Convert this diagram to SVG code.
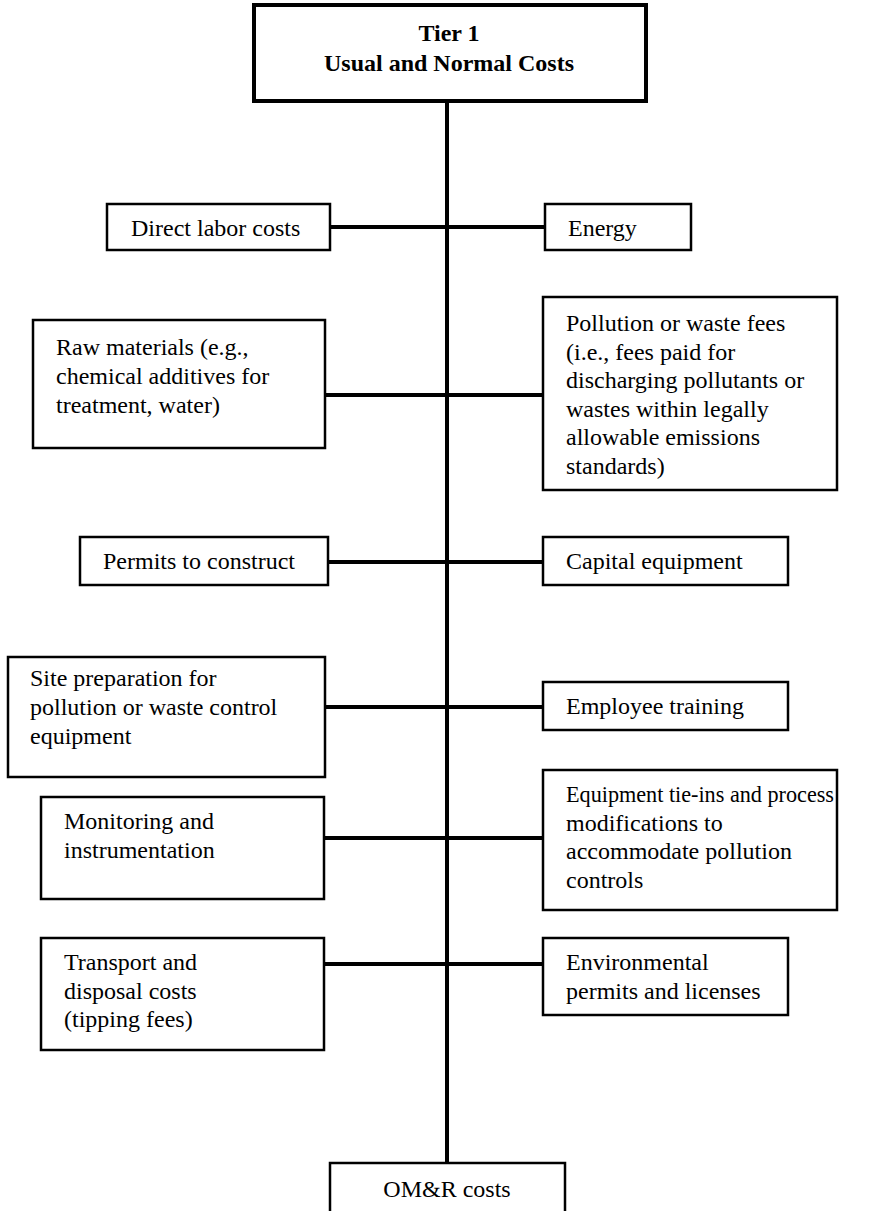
<svg xmlns="http://www.w3.org/2000/svg" width="873" height="1211" viewBox="0 0 873 1211">
<style>
.box{fill:#fff;stroke:#000;stroke-width:2.5}
.tbox{fill:#fff;stroke:#000;stroke-width:4}
.t{font-family:"Liberation Serif","Times New Roman",serif;font-size:24px;fill:#000}
.b{font-weight:bold;text-anchor:middle}
.c{stroke:#000;stroke-width:4;fill:none}
</style>
<rect width="873" height="1211" fill="#fff"/>
<g id="connectors">
<line class="c" x1="447" y1="100" x2="447" y2="1165"/>
<line class="c" x1="330" y1="227" x2="545" y2="227"/>
<line class="c" x1="325" y1="395" x2="543" y2="395"/>
<line class="c" x1="328" y1="562" x2="543" y2="562"/>
<line class="c" x1="325" y1="707" x2="543" y2="707"/>
<line class="c" x1="324" y1="838" x2="543" y2="838"/>
<line class="c" x1="324" y1="964" x2="543" y2="964"/>
</g>
<g id="tier1">
<rect class="tbox" x="254" y="5" width="392" height="96"/>
<text class="t b" x="449" y="41">Tier 1</text>
<text class="t b" x="449" y="71">Usual and Normal Costs</text>
</g>
<g id="direct-labor">
<rect class="box" x="107" y="204" width="223" height="46"/>
<text class="t" x="131" y="236">Direct labor costs</text>
</g>
<g id="energy">
<rect class="box" x="545" y="204" width="146" height="46"/>
<text class="t" x="568" y="236">Energy</text>
</g>
<g id="raw-materials">
<rect class="box" x="33" y="320" width="292" height="128"/>
<text class="t" x="56" y="355">Raw materials (e.g.,</text>
<text class="t" x="56" y="384">chemical additives for</text>
<text class="t" x="56" y="413">treatment, water)</text>
</g>
<g id="pollution-fees">
<rect class="box" x="543" y="297" width="294" height="193"/>
<text class="t" x="566" y="331">Pollution or waste fees</text>
<text class="t" x="566" y="360">(i.e., fees paid for</text>
<text class="t" x="566" y="388">discharging pollutants or</text>
<text class="t" x="566" y="417">wastes within legally</text>
<text class="t" x="566" y="445">allowable emissions</text>
<text class="t" x="566" y="474">standards)</text>
</g>
<g id="permits-construct">
<rect class="box" x="80" y="537" width="248" height="48"/>
<text class="t" x="103" y="569">Permits to construct</text>
</g>
<g id="capital-equipment">
<rect class="box" x="543" y="537" width="245" height="48"/>
<text class="t" x="566" y="569">Capital equipment</text>
</g>
<g id="site-preparation">
<rect class="box" x="8" y="657" width="317" height="120"/>
<text class="t" x="30" y="686">Site preparation for</text>
<text class="t" x="30" y="715">pollution or waste control</text>
<text class="t" x="30" y="744">equipment</text>
</g>
<g id="employee-training">
<rect class="box" x="543" y="682" width="245" height="48"/>
<text class="t" x="566" y="714">Employee training</text>
</g>
<g id="monitoring">
<rect class="box" x="41" y="797" width="283" height="102"/>
<text class="t" x="64" y="829">Monitoring and</text>
<text class="t" x="64" y="858">instrumentation</text>
</g>
<g id="equipment-tie-ins">
<rect class="box" x="543" y="770" width="294" height="140"/>
<text class="t" x="566" y="802" textLength="268" lengthAdjust="spacingAndGlyphs">Equipment tie-ins and process</text>
<text class="t" x="566" y="831">modifications to</text>
<text class="t" x="566" y="859">accommodate pollution</text>
<text class="t" x="566" y="888">controls</text>
</g>
<g id="transport">
<rect class="box" x="41" y="938" width="283" height="112"/>
<text class="t" x="64" y="970">Transport and</text>
<text class="t" x="64" y="999">disposal costs</text>
<text class="t" x="64" y="1027">(tipping fees)</text>
</g>
<g id="env-permits">
<rect class="box" x="543" y="938" width="245" height="77"/>
<text class="t" x="566" y="970">Environmental</text>
<text class="t" x="566" y="999">permits and licenses</text>
</g>
<g id="omr">
<rect class="box" x="330" y="1163" width="235" height="60"/>
<text class="t" x="447" y="1197" text-anchor="middle">OM&amp;R costs</text>
</g>
</svg>
